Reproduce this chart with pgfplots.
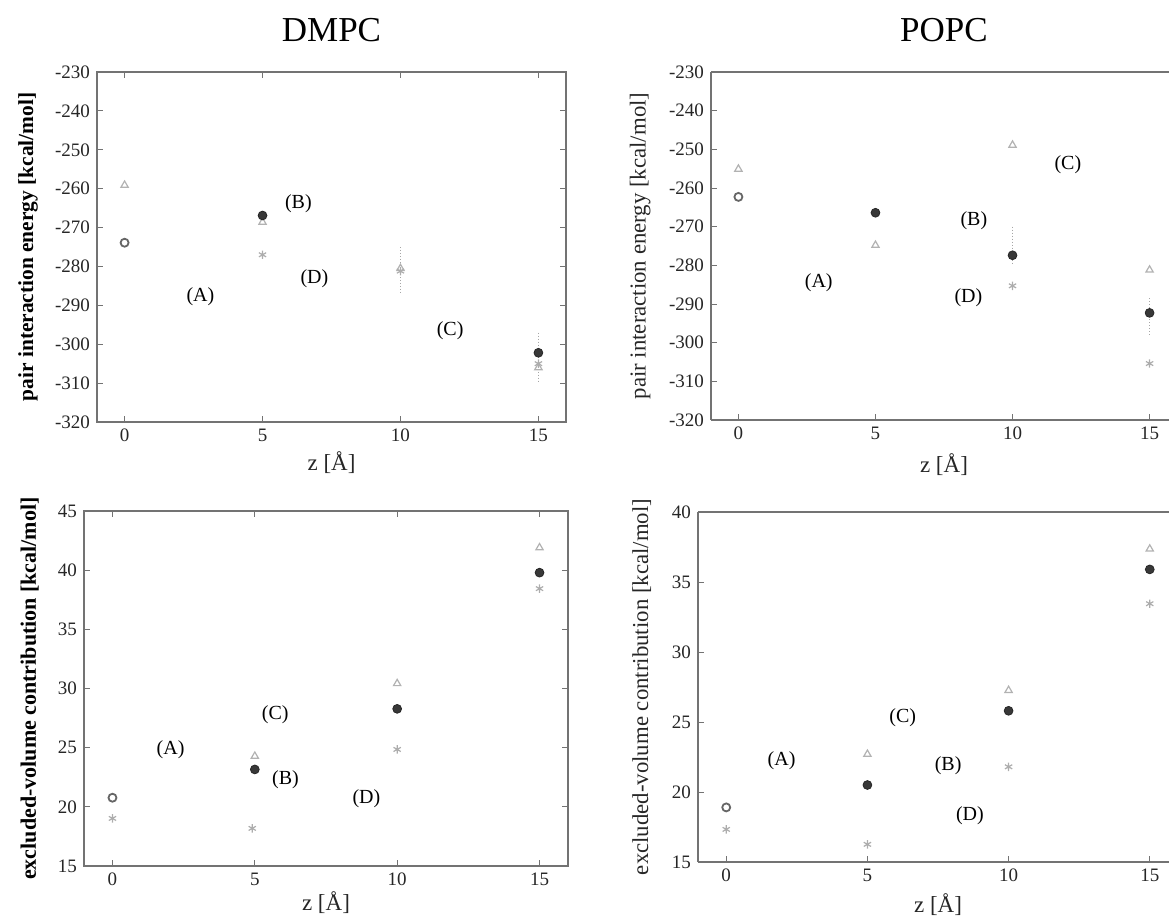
\documentclass[border=0pt]{standalone}
\usepackage{fontspec}
\setmainfont{Liberation Serif}
\usepackage{pgfplots}
\pgfplotsset{compat=1.18}

\pgfplotsset{
  refstyle/.style={
    scale only axis,
    xmin=-1, xmax=16,
    xtick={0,5,10,15},
    axis line style={black!55, line width=0.6pt},
    tick style={black!55, line width=0.5pt},
    major tick length=3pt,
    tick align=inside,
    tick label style={font=\fontsize{9.5}{11}\selectfont, black!85},
    /pgf/number format/assume math mode=true,
    xlabel style={font=\fontsize{11.5}{13}\selectfont, black!85},
    clip=false,
    title style={font=\fontsize{17.5}{20}\selectfont, at={(axis description cs:0.5,1)}, anchor=center, yshift=15pt},
  },
  rightpanel/.style={
    axis lines*=left,
    x axis line style={-}, y axis line style={-},
  },
  dark/.style={only marks, mark=*, mark size=2.2pt, mark options={fill=black!78, draw=black!85}},
  ocirc/.style={only marks, mark=o, mark size=2pt, mark options={draw=black!60, line width=0.9pt}},
  tri/.style={only marks, mark=triangle, mark size=2.1pt, mark options={draw=black!30, line width=0.6pt}},
  astr/.style={only marks, mark=asterisk, mark size=2.1pt, mark options={draw=black!32, line width=0.6pt}},
  ebar/.style={black!35, densely dotted, line width=0.5pt, mark=none, forget plot},
}
\newcommand{\lab}{\fontsize{10}{12}\selectfont}

\begin{document}
\begin{tikzpicture}
% ---------------- top left: DMPC pair interaction energy
\begin{axis}[refstyle,
  at={(48.5pt,247.5pt)}, anchor=south west,
  width=234.5pt, height=175pt,
  ymin=-320, ymax=-230, ytick={-320,-310,...,-230},
  title={DMPC},
  xlabel={z [Å]},
  xlabel style={at={(axis description cs:0.5,-0.117)}, anchor=center},
  ylabel={pair interaction energy [kcal/mol]},
  ylabel style={font=\fontsize{10.7}{12}\selectfont\bfseries, at={(axis description cs:-0.147,0.5)}, anchor=center},
]
\addplot[ebar] coordinates {(10,-275) (10,-287)};
\addplot[ebar] coordinates {(15,-297) (15,-310)};
\addplot[tri] coordinates {(0,-259.1) (5,-268.6) (10,-280.5) (15,-306)};
\addplot[astr] coordinates {(5,-277) (10,-281.2) (15,-305)};
\addplot[ocirc] coordinates {(0,-273.9)};
\addplot[dark] coordinates {(5,-266.9) (15,-302.2)};
\node[font=\lab] at (axis cs:2.75,-287.9) {(A)};
\node[font=\lab] at (axis cs:6.3,-263.9) {(B)};
\node[font=\lab] at (axis cs:11.8,-296.4) {(C)};
\node[font=\lab] at (axis cs:6.88,-283.1) {(D)};
\end{axis}

% ---------------- top right: POPC pair interaction energy
\begin{axis}[refstyle, rightpanel,
  at={(355.5pt,248.5pt)}, anchor=south west,
  width=233pt, height=174pt,
  ymin=-320, ymax=-230, ytick={-320,-310,...,-230},
  title={POPC},
  xlabel={z [Å]},
  xlabel style={at={(axis description cs:0.5,-0.129)}, anchor=center},
  ylabel={pair interaction energy [kcal/mol]},
  ylabel style={font=\fontsize{11.4}{13}\selectfont, black!85, at={(axis description cs:-0.152,0.5)}, anchor=center},
]
\draw[black!55, line width=0.6pt] (rel axis cs:0,1) -- (rel axis cs:1,1);
\addplot[ebar] coordinates {(10,-270) (10,-280)};
\addplot[ebar] coordinates {(15,-288.5) (15,-298)};
\addplot[tri] coordinates {(0,-255.1) (5,-274.8) (10,-248.9) (15,-281.2)};
\addplot[astr] coordinates {(10,-285.3) (15,-305.4)};
\addplot[ocirc] coordinates {(0,-262.3)};
\addplot[dark] coordinates {(5,-266.4) (10,-277.4) (15,-292.3)};
\node[font=\lab] at (axis cs:2.93,-284.4) {(A)};
\node[font=\lab] at (axis cs:8.59,-268.5) {(B)};
\node[font=\lab] at (axis cs:12.02,-254.1) {(C)};
\node[font=\lab] at (axis cs:8.39,-288.3) {(D)};
\end{axis}

% ---------------- bottom left: DMPC excluded volume
\begin{axis}[refstyle,
  at={(42pt,25.5pt)}, anchor=south west,
  width=242pt, height=177.5pt,
  ymin=15, ymax=45, ytick={15,20,...,45},
  xlabel={z [Å]},
  xlabel style={at={(axis description cs:0.5,-0.104)}, anchor=center},
  ylabel={excluded-volume contribution [kcal/mol]},
  ylabel style={font=\fontsize{11}{13}\selectfont\bfseries, at={(axis description cs:-0.112,0.5)}, anchor=center},
]
\addplot[tri] coordinates {(5,24.28) (10,30.42) (15,41.9)};
\addplot[astr] coordinates {(0,19.02) (4.91,18.18) (10,24.85) (15,38.44)};
\addplot[ocirc] coordinates {(0,20.77)};
\addplot[dark] coordinates {(5,23.16) (10,28.28) (15,39.79)};
\node[font=\lab] at (axis cs:2.04,24.85) {(A)};
\node[font=\lab] at (axis cs:6.08,22.3) {(B)};
\node[font=\lab] at (axis cs:5.72,27.75) {(C)};
\node[font=\lab] at (axis cs:8.92,20.71) {(D)};
\end{axis}

% ---------------- bottom right: POPC excluded volume
\begin{axis}[refstyle, rightpanel,
  at={(349pt,27.5pt)}, anchor=south west,
  width=240pt, height=175pt,
  ymin=15, ymax=40, ytick={15,20,...,40},
  xlabel={z [Å]},
  xlabel style={at={(axis description cs:0.5,-0.123)}, anchor=center},
  ylabel={excluded-volume contribution [kcal/mol]},
  ylabel style={font=\fontsize{11.4}{13}\selectfont, black!85, at={(axis description cs:-0.117,0.5)}, anchor=center},
]
\draw[black!55, line width=0.6pt] (rel axis cs:0,1) -- (rel axis cs:1,1);
\addplot[tri] coordinates {(5,22.7) (10,27.26) (15,37.36)};
\addplot[astr] coordinates {(0,17.33) (5,16.26) (10,21.8) (15,33.45)};
\addplot[ocirc] coordinates {(0,18.9)};
\addplot[dark] coordinates {(5,20.5) (10,25.8) (15,35.9)};
\node[font=\lab] at (axis cs:1.96,22.21) {(A)};
\node[font=\lab] at (axis cs:7.86,21.9) {(B)};
\node[font=\lab] at (axis cs:6.25,25.31) {(C)};
\node[font=\lab] at (axis cs:8.63,18.33) {(D)};
\end{axis}

\pgfresetboundingbox
\useasboundingbox (0,0) rectangle (584.5pt,458.5pt);
\end{tikzpicture}
\end{document}
